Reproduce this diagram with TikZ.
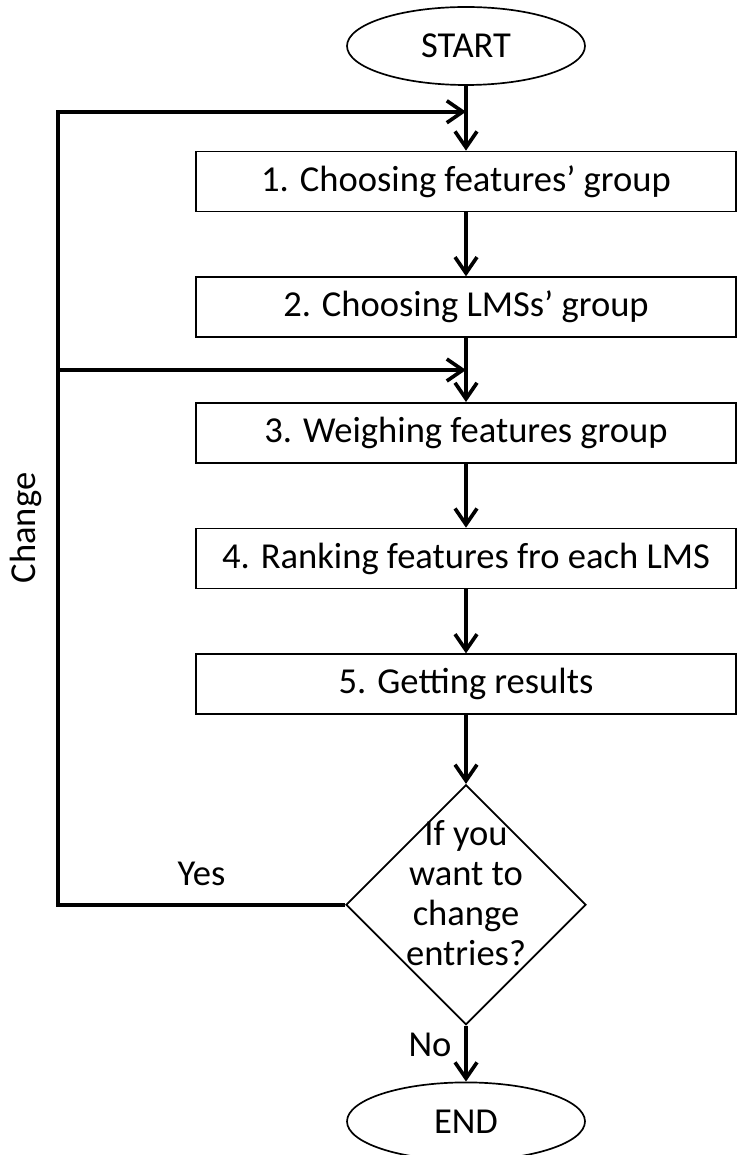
\documentclass[tikz,border=0pt]{standalone}
\usepackage{fontspec}
\setmainfont{Carlito}
\usetikzlibrary{arrows.meta, positioning, shapes.geometric, calc}
\tikzset{%
	terminal/.style={draw, ellipse, line width=1.2pt, minimum width=5.95cm, minimum height=1.95cm, inner sep=0mm},
	stepbox/.style={draw, rectangle, line width=1.2pt, minimum width=13.5cm,%
		minimum height=1.5cm, inner sep=0mm},
	decision/.style={draw, diamond, aspect=1, line width=1.2pt, minimum width=6cm, minimum height=6cm, inner sep=0mm},
	flow/.style={->, line width=2.6pt},
	loop/.style={line width=2.6pt},
	>={Straight Barb[length=4mm, width=5.5mm]}
}
\begin{document}
\begin{tikzpicture}[every node/.style={font=\fontsize{26}{28.5}\selectfont}]
	\useasboundingbox (0,0) rectangle (18.425,-28.875);

	%steps
	\node[terminal] (start) at (11.65,-1.15) {START};
	\node[stepbox, below=1.62cm of start] (b1) {1. Choosing features’ group};
	\node[stepbox, below=1.6cm of b1] (b2) {2. Choosing LMSs’ group};
	\node[stepbox, below=1.6cm of b2] (b3) {3. Weighing features group};
	\node[stepbox, below=1.6cm of b3] (b4) {4. Ranking features fro each LMS};
	\node[stepbox, below=1.6cm of b4] (b5) {5. Getting results};
	\node[decision, below=1.72cm of b5, label={[align=center, yshift=3mm]center:If you\\want to\\change\\entries?}] (q) {};
	\node[terminal, below=1.4cm of q] (end) {END};

	\draw[flow] (start) -- (b1);
	\draw[flow] (b1) -- (b2);
	\draw[flow] (b2) -- (b3);
	\draw[flow] (b3) -- (b4);
	\draw[flow] (b4) -- (b5);
	\draw[flow] (b5) -- (q);
	\draw[flow] (q) -- node[pos=0.35, left=2mm]{No} (end);

	%loop back
	\coordinate (in1) at ($(start.south)!0.4!(b1.north)$);
	\coordinate (in3) at ($(b2.south)!0.5!(b3.north)$);
	\coordinate (lft) at (1.45,0);
	\draw[flow] (q.west) -- node[above=3mm]{Yes} (q.west -| lft) |- (in1);
	\draw[flow] (lft |- in3) -- (in3);
	\node[rotate=90] (chg) at (0.65,-13.2) {Change};

\end{tikzpicture}
\end{document}
